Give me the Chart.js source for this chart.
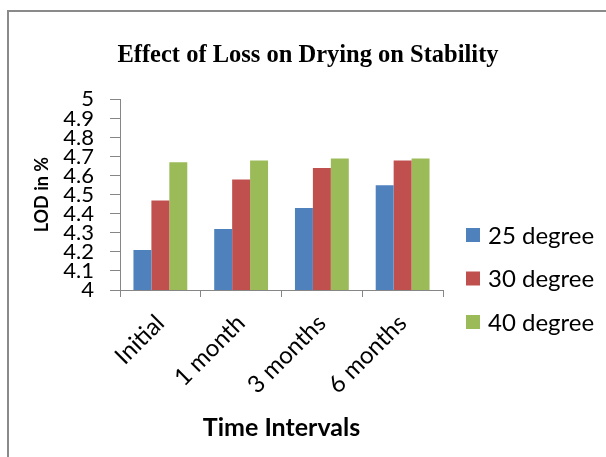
<!DOCTYPE html>
<html><head><meta charset="utf-8">
<script src="https://cdn.jsdelivr.net/npm/chart.js@4/dist/chart.umd.min.js"></script>
<style>
html,body{margin:0;padding:0;background:#fff;}
#wrap{position:relative;width:606px;height:457px;overflow:hidden;background:#fff;}
#frame{position:absolute;left:7px;top:10px;width:700px;height:600px;border:2px solid #8a8a8a;box-sizing:border-box;}
canvas{position:absolute;left:0;top:0;}
</style></head><body>
<div id="wrap"><div id="frame"></div><canvas id="c" width="606" height="457" style="width:606px;height:457px"></canvas></div>
<script>
const categories = ['Initial', '1 month', '3 months', '6 months'];
const seriesNames = ['25 degree', '30 degree', '40 degree'];
const values25 = [4.21, 4.32, 4.43, 4.55];
const values30 = [4.47, 4.58, 4.64, 4.68];
const values40 = [4.67, 4.68, 4.69, 4.69];
const yTickValues = [4, 4.1, 4.2, 4.3, 4.4, 4.5, 4.6, 4.7, 4.8, 4.9, 5];
const titleText = 'Effect of Loss on Drying on Stability';
const xTitle = 'Time Intervals';
const yTitle = 'LOD in %';
const colors = ['#4F81BD', '#C0504D', '#9BBB59'];

const legendPlugin = {
  id: 'customLegend',
  afterDraw(chart) {
    const ctx = chart.ctx;
    const x0 = chart.chartArea.right + 23;
    const y0 = 235, gap = 43.5;
    ctx.save();
    ctx.font = '24px Lato';
    ctx.textBaseline = 'middle';
    ctx.textAlign = 'left';
    chart.data.datasets.forEach((ds, i) => {
      const y = y0 + i * gap;
      ctx.fillStyle = ds.backgroundColor;
      ctx.fillRect(x0, y - 7, 14, 14);
      ctx.fillStyle = '#000';
      ctx.fillText(ds.label, x0 + 22, y + 1);
    });
    ctx.restore();
  }
};

const canvas = document.getElementById('c');
new Chart(canvas, {
  type: 'bar',
  data: {
    labels: categories,
    datasets: [
      { label: seriesNames[0], data: values25, backgroundColor: colors[0] },
      { label: seriesNames[1], data: values30, backgroundColor: colors[1] },
      { label: seriesNames[2], data: values40, backgroundColor: colors[2] }
    ]
  },
  options: {
    responsive: false,
    maintainAspectRatio: false,
    animation: false,
    devicePixelRatio: 1,
    datasets: { bar: { categoryPercentage: 3 / 4.5, barPercentage: 1.0 } },
    layout: { padding: { left: 10, right: 0, top: 0, bottom: 0 } },
    plugins: {
      legend: { display: false },
      tooltip: { enabled: false },
      title: {
        display: true, text: titleText, color: '#000',
        font: { family: 'Liberation Serif', weight: 'bold', size: 24.5, lineHeight: 1.2 },
        padding: { top: 41, bottom: 29 }
      }
    },
    scales: {
      x: {
        grid: { drawOnChartArea: false, drawTicks: true, tickLength: 7, color: '#868686', offset: true },
        border: { color: '#868686', width: 1 },
        ticks: { color: '#000', font: { family: 'Lato', size: 24 }, minRotation: 45, maxRotation: 45, autoSkip: false, padding: 12 },
        title: { display: true, text: xTitle, color: '#000', font: { family: 'Lato', weight: 'bold', size: 25, lineHeight: 1.2 }, padding: { top: 0, bottom: 14 } },
        afterFit(s) { s.height = 457 - 290; }
      },
      y: {
        min: 4, max: 5,
        grid: { drawOnChartArea: false, drawTicks: true, tickLength: 10, color: '#868686' },
        border: { color: '#868686', width: 1 },
        afterBuildTicks(s) { s.ticks = yTickValues.map(v => ({ value: v })); },
        ticks: { color: '#000', font: { family: 'Lato', size: 22 }, padding: 16, autoSkip: false, callback: (v) => String(v) },
        title: { display: true, text: yTitle, color: '#000', font: { family: 'Lato', weight: 'bold', size: 18, lineHeight: 1.2 }, padding: { top: 21, bottom: 0 } },
        afterFit(s) { s.width = 110; }
      },
      yR: {
        position: 'right', display: true, min: 0, max: 1,
        grid: { display: false }, border: { display: false },
        ticks: { display: false },
        afterFit(s) { s.width = 606 - 443; }
      }
    }
  },
  plugins: [legendPlugin]
});
</script>
</body></html>
